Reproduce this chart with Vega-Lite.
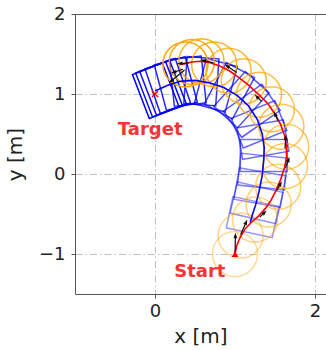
{
  "$schema": "https://vega.github.io/schema/vega-lite/v6.json",
  "width": 251,
  "height": 280,
  "autosize": "none",
  "padding": {"left": 75, "top": 14, "right": 0, "bottom": 56},
  "config": {
    "font": "DejaVu Sans",
    "view": {"stroke": null},
    "axis": {
      "grid": true, "gridColor": "#b0b0b0", "gridDash": [7, 3, 1.5, 3], "gridWidth": 0.8,
      "domainColor": "#555", "tickColor": "#555", "tickSize": 4,
      "labelFontSize": 18, "labelColor": "#222", "titleFontSize": 20, "titleColor": "#222", "titleFontWeight": "normal"
    }
  },
  "resolve": {"axis": {"x": "independent", "y": "independent"}},
  "datasets": {
    "path": [
      {"i":1,"x":1.00,"y":-1.00},{"i":2,"x":1.02,"y":-0.90},{"i":3,"x":1.06,"y":-0.80},{"i":4,"x":1.13,"y":-0.68},
      {"i":5,"x":1.21,"y":-0.60},{"i":6,"x":1.30,"y":-0.52},{"i":7,"x":1.38,"y":-0.43},{"i":8,"x":1.45,"y":-0.33},
      {"i":9,"x":1.51,"y":-0.21},{"i":10,"x":1.57,"y":-0.07},{"i":11,"x":1.62,"y":0.08},{"i":12,"x":1.645,"y":0.22},
      {"i":13,"x":1.64,"y":0.36},{"i":14,"x":1.62,"y":0.48},{"i":15,"x":1.57,"y":0.62},{"i":16,"x":1.50,"y":0.75},
      {"i":17,"x":1.41,"y":0.88},{"i":18,"x":1.30,"y":0.99},{"i":19,"x":1.17,"y":1.11},{"i":20,"x":1.04,"y":1.21},
      {"i":21,"x":0.93,"y":1.29},{"i":22,"x":0.81,"y":1.35},{"i":23,"x":0.69,"y":1.39},{"i":24,"x":0.57,"y":1.41},
      {"i":25,"x":0.46,"y":1.40},{"i":26,"x":0.38,"y":1.38},{"i":27,"x":0.32,"y":1.37}
    ],
    "trail": [
      {"i":1,"x":1.19,"y":-0.61},{"i":2,"x":1.22,"y":-0.50},{"i":3,"x":1.26,"y":-0.38},{"i":4,"x":1.30,"y":-0.22},
      {"i":5,"x":1.34,"y":-0.02},{"i":6,"x":1.36,"y":0.18},{"i":7,"x":1.365,"y":0.33},{"i":8,"x":1.34,"y":0.50},
      {"i":9,"x":1.28,"y":0.68},{"i":10,"x":1.17,"y":0.85},{"i":11,"x":1.03,"y":0.98},{"i":12,"x":0.86,"y":1.08},
      {"i":13,"x":0.68,"y":1.14},{"i":14,"x":0.50,"y":1.17},{"i":15,"x":0.32,"y":1.16},{"i":16,"x":0.16,"y":1.11},
      {"i":17,"x":0.05,"y":1.06},{"i":18,"x":0.0,"y":1.04}
    ],
    "rects": [
      {"t":1,"x":1.22,"y":-0.54,"hdg":78},{"t":2,"x":1.27,"y":-0.36,"hdg":77},{"t":3,"x":1.31,"y":-0.17,"hdg":80},
      {"t":4,"x":1.345,"y":0.03,"hdg":84},{"t":5,"x":1.36,"y":0.23,"hdg":90},{"t":6,"x":1.35,"y":0.43,"hdg":100},
      {"t":7,"x":1.30,"y":0.62,"hdg":112},{"t":8,"x":1.21,"y":0.79,"hdg":125},{"t":9,"x":1.08,"y":0.93,"hdg":138},
      {"t":10,"x":0.93,"y":1.04,"hdg":152},{"t":11,"x":0.76,"y":1.11,"hdg":165},{"t":12,"x":0.58,"y":1.16,"hdg":176},
      {"t":13,"x":0.41,"y":1.16,"hdg":186},{"t":14,"x":0.26,"y":1.13,"hdg":195},{"t":15,"x":0.16,"y":1.10,"hdg":199},
      {"t":16,"x":0.10,"y":1.08,"hdg":201},{"t":17,"x":0.05,"y":1.06,"hdg":201},{"t":18,"x":0.01,"y":1.04,"hdg":201}
    ],
    "circles": [
      {"t":1,"x":1.00,"y":-1.00},{"t":2,"x":1.07,"y":-0.77},{"t":3,"x":1.25,"y":-0.57},{"t":4,"x":1.42,"y":-0.38},
      {"t":5,"x":1.54,"y":-0.16},{"t":6,"x":1.625,"y":0.10},{"t":7,"x":1.64,"y":0.34},{"t":8,"x":1.58,"y":0.59},
      {"t":9,"x":1.46,"y":0.81},{"t":10,"x":1.30,"y":0.99},{"t":11,"x":1.11,"y":1.16},{"t":12,"x":0.92,"y":1.29},
      {"t":13,"x":0.74,"y":1.37},{"t":14,"x":0.58,"y":1.41},{"t":16,"x":0.46,"y":1.40},{"t":18,"x":0.38,"y":1.37}
    ],
    "arrows": [
      {"x":1.00,"y":-1.02,"x2":1.005,"y2":-0.77,"hdg":90},
      {"x":1.07,"y":-0.76,"x2":1.14,"y2":-0.60,"hdg":66},
      {"x":1.31,"y":-0.54,"x2":1.37,"y2":-0.48,"hdg":45},
      {"x":1.52,"y":-0.21,"x2":1.57,"y2":-0.12,"hdg":60},
      {"x":1.63,"y":0.08,"x2":1.67,"y2":0.18,"hdg":70},
      {"x":1.625,"y":0.32,"x2":1.635,"y2":0.46,"hdg":86},
      {"x":1.54,"y":0.66,"x2":1.50,"y2":0.75,"hdg":115},
      {"x":1.33,"y":0.91,"x2":1.27,"y2":0.97,"hdg":135},
      {"x":1.02,"y":1.27,"x2":0.90,"y2":1.35,"hdg":148},
      {"x":0.73,"y":1.39,"x2":0.60,"y2":1.42,"hdg":170},
      {"x":0.42,"y":1.39,"x2":0.31,"y2":1.38,"hdg":185},
      {"x":0.35,"y":1.31,"x2":0.23,"y2":1.27,"hdg":200},
      {"x":0.37,"y":1.30,"x2":0.20,"y2":1.16,"hdg":220}
    ],
    "labels": [
      {"x":-0.06,"y":0.55,"text":"Target"},
      {"x":0.56,"y":-1.23,"text":"Start"}
    ],
    "start": [{"x":1.0,"y":-1.0}],
    "target": [{"x":0.0,"y":1.0}]
  },
  "layer": [
    {
      "data": {"name": "rects"},
      "mark": {"type": "point", "shape": "M-1,-0.68L1,-0.68L1,0.68L-1,0.68Z", "size": 2209, "filled": false, "stroke": "#0000ff", "strokeWidth": 1.5, "clip": true},
      "encoding": {
        "x": {"field": "x", "type": "quantitative", "scale": {"domain": [-1, 2.1375], "nice": false, "zero": false},
              "axis": {"values": [0, 2], "title": "x [m]", "domain": true, "labelPadding": 4, "titleY": 42, "titleBaseline": "middle", "format": "d"}},
        "y": {"field": "y", "type": "quantitative", "scale": {"domain": [-1.5, 2], "nice": false, "zero": false},
              "axis": {"values": [-1, 0, 1, 2], "title": "y [m]", "domain": true, "labelPadding": 6, "titleX": -60, "titleY": 140, "titleBaseline": "middle", "format": "d"}},
        "angle": {"field": "hdg", "type": "quantitative", "scale": {"domain": [0, 360], "range": [90, -270]}},
        "opacity": {"field": "t", "type": "quantitative", "scale": {"domain": [1, 18], "range": [0.4, 1]}, "legend": null}
      }
    },
    {
      "data": {"name": "circles"},
      "mark": {"type": "point", "shape": "circle", "size": 2025, "filled": false, "stroke": "#ffa500", "strokeWidth": 1.5, "clip": true},
      "encoding": {
        "x": {"field": "x", "type": "quantitative", "axis": {"orient": "top", "labels": false, "ticks": false, "title": null, "grid": false, "domain": true}},
        "y": {"field": "y", "type": "quantitative", "axis": null},
        "opacity": {"field": "t", "type": "quantitative", "scale": {"domain": [1, 18], "range": [0.4, 1]}, "legend": null}
      }
    },
    {
      "data": {"name": "trail"},
      "mark": {"type": "line", "color": "#0000ff", "strokeWidth": 1.6},
      "encoding": {
        "x": {"field": "x", "type": "quantitative", "axis": null},
        "y": {"field": "y", "type": "quantitative", "axis": null},
        "order": {"field": "i", "type": "quantitative"}
      }
    },
    {
      "data": {"name": "path"},
      "mark": {"type": "line", "color": "#ff0000", "strokeWidth": 1.6},
      "encoding": {
        "x": {"field": "x", "type": "quantitative", "axis": null},
        "y": {"field": "y", "type": "quantitative", "axis": null},
        "order": {"field": "i", "type": "quantitative"}
      }
    },
    {
      "data": {"name": "arrows"},
      "mark": {"type": "rule", "color": "#111", "strokeWidth": 1.2},
      "encoding": {
        "x": {"field": "x", "type": "quantitative", "axis": null},
        "y": {"field": "y", "type": "quantitative", "axis": null},
        "x2": {"field": "x2"},
        "y2": {"field": "y2"}
      }
    },
    {
      "data": {"name": "arrows"},
      "mark": {"type": "point", "shape": "M0,-1L0.7,1L-0.7,1Z", "size": 30, "filled": true, "color": "#111", "opacity": 1},
      "encoding": {
        "x": {"field": "x2", "type": "quantitative", "axis": null},
        "y": {"field": "y2", "type": "quantitative", "axis": null},
        "angle": {"field": "hdg", "type": "quantitative", "scale": {"domain": [0, 360], "range": [90, -270]}}
      }
    },
    {
      "data": {"name": "start"},
      "mark": {"type": "point", "shape": "triangle-up", "size": 45, "filled": true, "color": "#ff0000", "opacity": 1},
      "encoding": {
        "x": {"field": "x", "type": "quantitative", "axis": null},
        "y": {"field": "y", "type": "quantitative", "axis": null}
      }
    },
    {
      "data": {"name": "target"},
      "mark": {"type": "point", "shape": "M-1,-1L1,1M-1,1L1,-1", "size": 36, "filled": false, "stroke": "#ff0000", "strokeWidth": 1.5, "opacity": 1},
      "encoding": {
        "x": {"field": "x", "type": "quantitative", "axis": null},
        "y": {"field": "y", "type": "quantitative", "axis": null}
      }
    },
    {
      "data": {"name": "labels"},
      "mark": {"type": "text", "font": "DejaVu Sans", "fontSize": 18, "fontWeight": "bold", "color": "#f53535", "align": "center", "baseline": "middle"},
      "encoding": {
        "x": {"field": "x", "type": "quantitative", "axis": null},
        "y": {"field": "y", "type": "quantitative", "axis": null},
        "text": {"field": "text", "type": "nominal"}
      }
    }
  ]
}
